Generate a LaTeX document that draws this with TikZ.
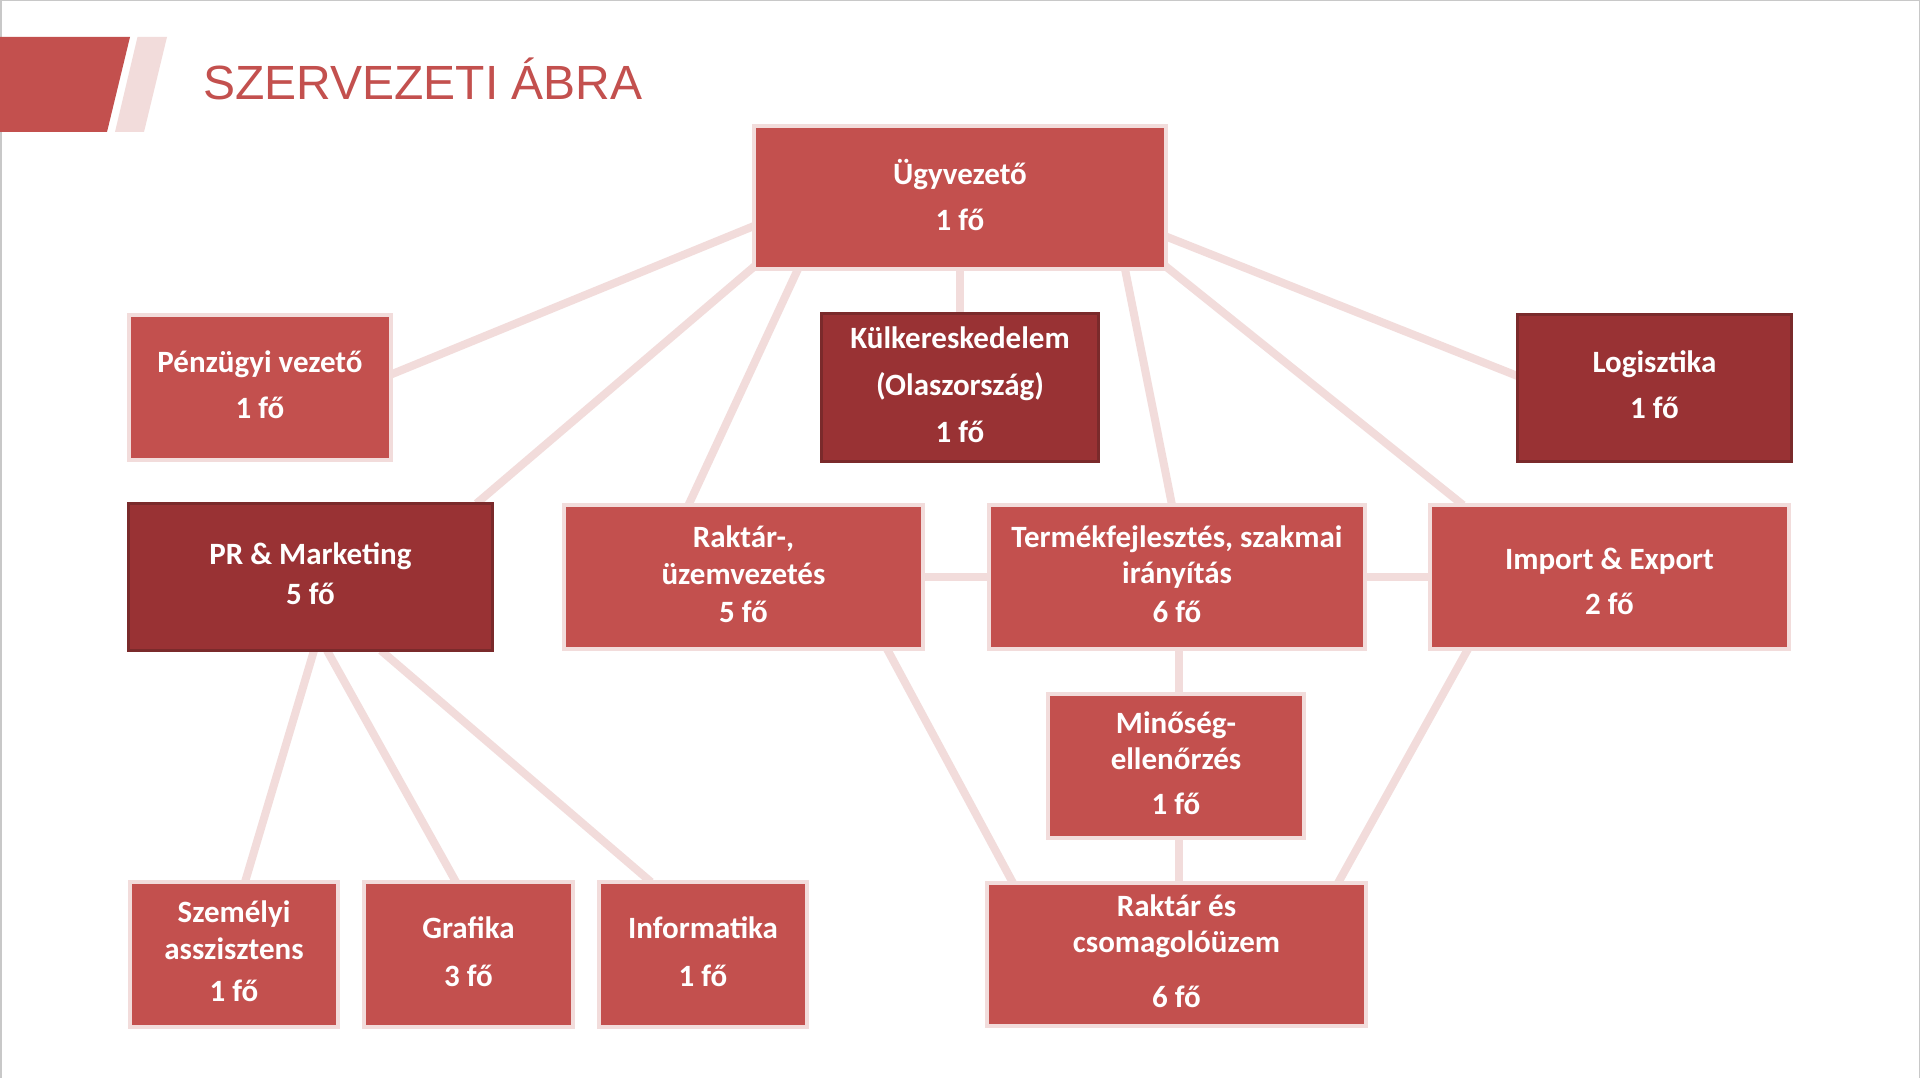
\documentclass[tikz,border=0pt]{standalone}
\usepackage{fontspec}
\setmainfont{Carlito}
\newfontfamily\titlefont{Liberation Sans}
\usetikzlibrary{calc}
\definecolor{boxred}{HTML}{C3504E}
\definecolor{darkred}{HTML}{993234}
\definecolor{darkedge}{HTML}{7A2A2B}
\definecolor{pale}{HTML}{F2DCDB}
\definecolor{framegray}{HTML}{C8C8C8}
\pgfdeclarelayer{bg}
\pgfdeclarelayer{lines}
\pgfsetlayers{bg,lines,main}
\begin{document}
\begin{tikzpicture}[x=1pt,y=-1pt,
  orgbox/.style={draw=pale, line width=4pt, fill=boxred, text=white,
    font=\bfseries\fontsize{31}{46}\selectfont, align=center, inner sep=0pt, outer sep=0pt,
    execute at end node={\rule[-6pt]{0pt}{6pt}}},
  darkbox/.style={orgbox, draw=darkedge, line width=3pt, fill=darkred},
  conn/.style={draw=pale, line width=8pt},
  ls/.style={font=\bfseries\fontsize{31}{#1}\selectfont}]
\useasboundingbox (0,0) rectangle (1920,1078);
\begin{pgfonlayer}{bg}
  \fill[white] (0,0) rectangle (1920,1078);
  \draw[framegray, line width=1.5pt] (0.75,1078) -- (0.75,0.75) -- (1919.25,0.75) -- (1919.25,1078);
  \fill[boxred] (0,37) -- (130,37) -- (107,132) -- (0,132) -- cycle;
  \fill[pale] (137.5,37) -- (167,37) -- (144,132) -- (115,132) -- cycle;
\end{pgfonlayer}

\node[anchor=base west, text=boxred, font=\titlefont\fontsize{48}{56}\selectfont, inner sep=0pt] (title) at (203,100) {SZERVEZETI ÁBRA};

\node[orgbox, minimum width=412pt, minimum height=143pt] (ug) at (960,197.5) {Ügyvezető\\1 fő};
\node[darkbox, ls=47, minimum width=277pt, minimum height=148pt] (kul) at (960,387.5) {Külkereskedelem\\(Olaszország)\\1 fő};
\node[orgbox, minimum width=262pt, minimum height=145pt] (pen) at (260,387.5) {Pénzügyi vezető\\1 fő};
\node[darkbox, ls=40, minimum width=364pt, minimum height=147pt] (pr) at (310.5,577) {PR \& Marketing\\5 fő};
\node[darkbox, minimum width=274pt, minimum height=147pt] (log) at (1654.5,388) {Logisztika\\1 fő};
\node[orgbox, ls=37.5, minimum width=359pt, minimum height=144pt] (rak) at (743.5,577) {Raktár-,\\üzemvezetés\\5 fő};
\node[orgbox, ls=36, minimum width=376pt, minimum height=144pt] (ter) at (1177,577) {Termékfejlesztés, szakmai\\irányítás\\[3pt]6 fő};
\node[orgbox, ls=45, minimum width=359pt, minimum height=144pt] (imp) at (1609.5,577) {\rule{0pt}{36pt}Import \& Export\\2 fő};
\node[orgbox, ls=36, minimum width=256pt, minimum height=144pt] (min) at (1176,766) {Minőség-\\ellenőrzés\\[9pt]1 fő};
\node[orgbox, ls=37, minimum width=208pt, minimum height=145pt] (sze) at (234,954.5) {Személyi\\asszisztens\\[5pt]1 fő};
\node[orgbox, ls=48, minimum width=209pt, minimum height=145pt] (gra) at (468.5,954.5) {Grafika\\3 fő};
\node[orgbox, ls=48, minimum width=208pt, minimum height=145pt] (inf) at (703,954.5) {Informatika\\1 fő};
\node[orgbox, ls=36, minimum width=379pt, minimum height=143pt] (rcs) at (1176.5,954.5) {Raktár és\\csomagolóüzem\\[19pt]6 fő};

\begin{pgfonlayer}{lines}
  \draw[conn] ([yshift=-28.5pt]ug.west) -- ([yshift=13pt]pen.east);
  \draw[conn] ([xshift=2pt,yshift=4pt]ug.south west) -- ([xshift=-16pt]pr.north east);
  \draw[conn] ([xshift=44pt]ug.south west) -- ([xshift=-55pt]rak.north);
  \draw[conn] (ug.south) -- (kul.north);
  \draw[conn] ([xshift=-41pt]ug.south east) -- ([xshift=-5pt]ter.north);
  \draw[conn] ([xshift=-2pt,yshift=4pt]ug.south east) -- ([xshift=33pt]imp.north west);
  \draw[conn] ([yshift=-39pt]ug.east) -- ([yshift=12pt]log.west);
  \draw[conn] (rak.east) -- (ter.west);
  \draw[conn] (ter.east) -- (imp.west);
  \draw[conn] ([xshift=3pt]min.north) -- ([xshift=3pt]min.north |- ter.south);
  \draw[conn] ([xshift=3pt]min.south) -- ([xshift=3pt]min.south |- rcs.north);
  \draw[conn] ([xshift=-36pt]rak.south east) -- ([xshift=26pt]rcs.north west);
  \draw[conn] ([xshift=38pt]imp.south west) -- ([xshift=-28pt]rcs.north east);
  \draw[conn] ([xshift=3.5pt]pr.south) -- ([xshift=11pt]sze.north);
  \draw[conn] ([xshift=16.5pt]pr.south) -- ([xshift=-12.5pt]gra.north);
  \draw[conn] ([xshift=70.5pt]pr.south) -- ([xshift=-52pt]inf.north);
\end{pgfonlayer}
\end{tikzpicture}
\end{document}
